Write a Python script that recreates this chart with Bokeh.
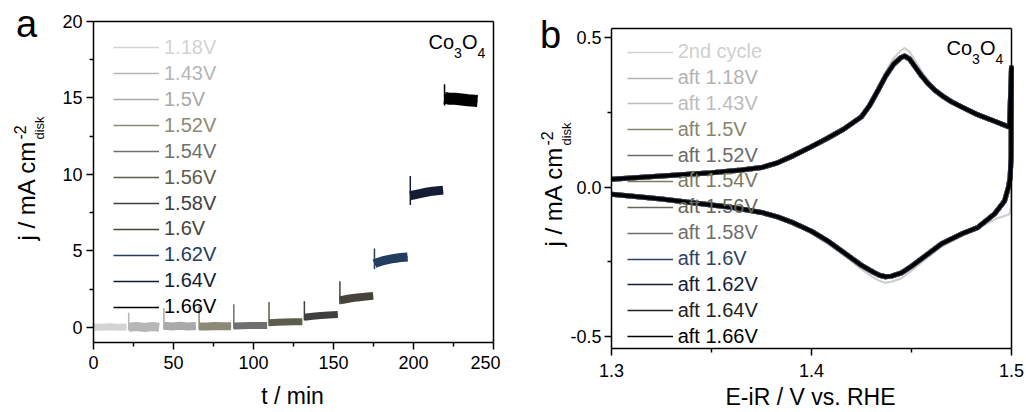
import math
from bokeh.plotting import figure
from bokeh.models import (Legend, LegendItem, Label, FixedTicker, NumeralTickFormatter,
                          LinearAxis, Range1d)
from bokeh.layouts import row
from bokeh.embed import file_html
from bokeh.resources import INLINE

FONT = "Liberation Sans"

# ---------------- Panel a data: chronoamperometry steps ----------------
a_labels = ["1.18V", "1.43V", "1.5V", "1.52V", "1.54V", "1.56V",
            "1.58V", "1.6V", "1.62V", "1.64V", "1.66V"]
t_118 = [0.0, 5.0, 10.0, 15.0, 20.6]
j_118 = [0.02, 0.0, 0.03, 0.0, 0.02]
t_143 = [22.0, 27.0, 32.0, 37.0, 41.0]
j_143 = [0.0, 0.05, -0.02, 0.05, 0.0]
t_150 = [44.0, 49.0, 54.0, 59.0, 64.0]
j_150 = [0.1, 0.05, 0.1, 0.05, 0.08]
t_152 = [66.0, 71.0, 76.0, 81.0, 86.0]
j_152 = [0.05, 0.05, 0.08, 0.06, 0.06]
t_154 = [87.7, 93.0, 98.0, 103.0, 108.5]
j_154 = [0.08, 0.1, 0.12, 0.12, 0.12]
t_156 = [109.7, 115.0, 120.0, 125.0, 130.5]
j_156 = [0.3, 0.32, 0.34, 0.35, 0.36]
t_158 = [131.8, 137.0, 142.0, 147.0, 152.7]
j_158 = [0.65, 0.72, 0.77, 0.8, 0.83]
t_160 = [154.0, 156.0, 160.0, 165.0, 170.0, 174.8]
j_160 = [1.75, 1.8, 1.88, 1.95, 2.0, 2.05]
t_162 = [175.6, 177.0, 180.0, 184.0, 188.0, 192.0, 196.3]
j_162 = [4.15, 4.22, 4.32, 4.42, 4.5, 4.56, 4.6]
t_164 = [198.0, 200.0, 204.0, 208.0, 212.0, 218.5]
j_164 = [8.6, 8.65, 8.74, 8.83, 8.9, 8.97]
t_166 = [219.4, 222.0, 226.0, 230.0, 234.0, 240.0]
j_166 = [15.0, 14.95, 14.95, 14.9, 14.85, 14.8]
a_t = [t_118, t_143, t_150, t_152, t_154, t_156, t_158, t_160, t_162, t_164, t_166]
a_j = [j_118, j_143, j_150, j_152, j_154, j_156, j_158, j_160, j_162, j_164, j_166]
spike_top = [0.02, 0.95, 1.25, 1.35, 1.5, 1.65, 1.7, 3.0, 5.15, 9.9, 15.9]
spike_bottom = [0.02, -0.2, -0.15, -0.15, -0.1, 0.1, 0.45, 1.5, 3.8, 8.0, 14.5]
a_xticks = [0, 50, 100, 150, 200, 250]
a_xminor = [25, 75, 125, 175, 225]
a_yticks = [0, 5, 10, 15, 20]
a_yminor = [2.5, 7.5, 12.5, 17.5]

# ---------------- Panel b data: cyclic voltammograms ----------------
b_labels = ["2nd cycle", "aft 1.18V", "aft 1.43V", "aft 1.5V", "aft 1.52V", "aft 1.54V",
            "aft 1.56V", "aft 1.58V", "aft 1.6V", "aft 1.62V", "aft 1.64V", "aft 1.66V"]
E_up = [1.300, 1.325, 1.350, 1.365, 1.375, 1.383, 1.391, 1.400, 1.408, 1.416, 1.425, 1.429,
        1.433, 1.437, 1.441, 1.4445, 1.4465, 1.449, 1.452, 1.455, 1.458, 1.462, 1.466, 1.470,
        1.475, 1.483, 1.4915, 1.4990, 1.5000]
j_up = [0.026, 0.037, 0.048, 0.057, 0.065, 0.081, 0.105, 0.135, 0.163, 0.193, 0.235, 0.272,
        0.320, 0.370, 0.410, 0.432, 0.438, 0.428, 0.400, 0.372, 0.348, 0.322, 0.302, 0.285,
        0.268, 0.242, 0.220, 0.200, 0.400]
j2_up = [0.026, 0.037, 0.048, 0.057, 0.065, 0.081, 0.105, 0.135, 0.163, 0.195, 0.238, 0.278,
         0.330, 0.385, 0.430, 0.455, 0.465, 0.452, 0.420, 0.388, 0.360, 0.330, 0.308, 0.290,
         0.272, 0.245, 0.222, 0.200, 0.200]
E_dn = [1.5000, 1.4998, 1.4993, 1.4985, 1.4965, 1.4915, 1.483, 1.475, 1.465, 1.455, 1.450,
        1.445, 1.440, 1.437, 1.434, 1.431, 1.425, 1.418, 1.408, 1.400, 1.391, 1.383, 1.375,
        1.360, 1.350, 1.325, 1.300]
j_dn = [0.400, 0.100, 0.030, 0.000, -0.047, -0.090, -0.136, -0.157, -0.190, -0.240, -0.265,
        -0.287, -0.298, -0.300, -0.295, -0.285, -0.262, -0.228, -0.180, -0.148, -0.120, -0.100,
        -0.085, -0.068, -0.060, -0.040, -0.024]
j2_dn = [0.200, -0.060, -0.085, -0.092, -0.097, -0.108, -0.140, -0.164, -0.200, -0.252, -0.280,
         -0.305, -0.317, -0.320, -0.314, -0.303, -0.275, -0.238, -0.190, -0.155, -0.125, -0.104,
         -0.088, -0.070, -0.061, -0.041, -0.025]
b_xticks = [1.3, 1.4, 1.5]
b_xminor = [1.35, 1.45]
b_yticks = [-0.5, 0.0, 0.5]
b_yminor = [-0.25, 0.25]

# ---------------- styles ----------------
a_colors = ["#d3d3d3", "#b6b6b6", "#a9a9a9", "#8c8a76", "#6f6f6f", "#5d5d4b",
            "#3f3f3f", "#48433a", "#223d5e", "#141c36", "#000000"]
a_band_px = [7, 9, 8, 8, 7, 7, 7, 8, 9, 9, 12]
b_colors = ["#cfcfcf", "#b3b3b3", "#bdbdbd", "#86866f", "#6b6b6b", "#7b7b62",
            "#66665a", "#6e6e6e", "#2b4466", "#151d3a", "#222222", "#000000"]
b_widths = [2, 5, 5, 5, 5, 5, 5, 5, 4.5, 4, 3.5, 3]

H = 412
MID = 0.38  # distance baseline -> middle anchor, in em


def make_fig(W, box, xr, yr):
    # box = (left, right, top, bottom) of the axes box in canvas pixels
    l, r, t, b = box
    kx = (r - l) / (xr[1] - xr[0])
    ky = (b - t) / (yr[1] - yr[0])
    p = figure(width=W, height=H, title=None, output_backend="svg", toolbar_location=None,
               x_range=Range1d(xr[0] - l / kx, xr[1] + (W - r) / kx),
               y_range=Range1d(yr[0] - (H - b) / ky, yr[1] + t / ky),
               min_border_left=0, min_border_right=0, min_border_top=0, min_border_bottom=0)
    p.xgrid.visible = False
    p.ygrid.visible = False
    p.outline_line_color = None
    p.background_fill_color = "white"
    p.border_fill_color = "white"
    xax = p.below[0]
    yax = p.left[0]
    xax.fixed_location = yr[0]
    xax.bounds = xr
    yax.fixed_location = xr[0]
    yax.bounds = yr
    top = LinearAxis(fixed_location=yr[1], bounds=xr, ticker=FixedTicker(ticks=[]))
    right = LinearAxis(fixed_location=xr[1], bounds=yr, ticker=FixedTicker(ticks=[]))
    p.add_layout(top, "above")
    p.add_layout(right, "right")
    for ax in (top, right):
        ax.axis_line_width = 1.5
        ax.axis_line_color = "black"
        ax.major_tick_line_color = None
        ax.minor_tick_line_color = None
        ax.major_label_text_font_size = "0px"
    return p, xax, yax


def style_axes(xax, yax, xt, xm, yt, ym, fmt, xstand, ystand):
    for ax in (xax, yax):
        ax.axis_line_width = 1.5
        ax.axis_line_color = "black"
        ax.major_tick_line_width = 1.5
        ax.minor_tick_line_width = 1.5
        ax.major_tick_line_color = "black"
        ax.minor_tick_line_color = "black"
        ax.major_tick_in = 0
        ax.major_tick_out = 7
        ax.minor_tick_in = 0
        ax.minor_tick_out = 4
        ax.major_label_text_font = FONT
        ax.major_label_text_font_size = "18px"
        ax.major_label_text_color = "black"
        if fmt:
            ax.formatter = NumeralTickFormatter(format=fmt)
    xax.ticker = FixedTicker(ticks=xt, minor_ticks=xm)
    yax.ticker = FixedTicker(ticks=yt, minor_ticks=ym)
    xax.major_label_standoff = xstand
    yax.major_label_standoff = ystand


def lab(p, X, Ybase, text, size, align="left"):
    # X, Ybase: canvas pixels (from top-left) of the text start and its baseline
    p.add_layout(Label(x=X, y=H - (Ybase - MID * size), x_units="screen", y_units="screen",
                       text=text, text_font=FONT, text_font_size=f"{size}px",
                       text_color="black", text_align=align, text_baseline="middle"))


def lab_rot(p, Xbase, Ystart, text, size):
    # vertical text reading upwards; Xbase = baseline column, Ystart = lower end
    p.add_layout(Label(x=Xbase - MID * size, y=H - Ystart, x_units="screen", y_units="screen",
                       text=text, text_font=FONT, text_font_size=f"{size}px",
                       text_color="black", text_align="left", text_baseline="middle",
                       angle=math.pi / 2))


def add_legends(p, labels, rends, colors, x0, yc0, dy, level="annotation"):
    for i, (lbl, r, c) in enumerate(zip(labels, rends, colors)):
        yc = H - (yc0 + dy * i)
        lg = Legend(items=[LegendItem(label=lbl, renderers=[r])],
                    location=(x0, yc - 12),
                    label_text_font=FONT, label_text_font_size="20px", label_text_color=c,
                    glyph_width=46, glyph_height=24, label_height=24, label_standoff=5,
                    padding=0, margin=0, spacing=0, border_line_color=None,
                    background_fill_alpha=0, level=level)
        p.add_layout(lg, "center")


def ylabel(p, xb, ystart):
    lab_rot(p, xb, ystart, "j / mA cm", 24)
    lab_rot(p, xb - 9, ystart - 101, "-2", 16)
    lab_rot(p, xb + 9, ystart - 101, "disk", 13)


def co3o4(p, X, Yb):
    lab(p, X, Yb, "Co", 20)
    lab(p, X + 25.6, Yb + 8, "3", 14)
    lab(p, X + 33.4, Yb, "O", 20)
    lab(p, X + 48.9, Yb + 8, "4", 14)


# ---------------- Panel a ----------------
pa, pa_x, pa_y = make_fig(500, (93, 493, 21, 342), (0, 250), (-1, 20))
style_axes(pa_x, pa_y, a_xticks, a_xminor, a_yticks, a_yminor, None, 6, 4)

proxies_a = []
for t, j, c in zip(a_t, a_j, a_colors):
    proxies_a.append(pa.line(t, j, line_color=c, line_width=1.5))
for t, j, c, w in zip(a_t, a_j, a_colors, a_band_px):
    pa.line(t, j, line_color=c, line_width=w, line_cap="butt", line_join="round")
spike_t = [t[0] for t in a_t]
pa.segment(x0=spike_t, y0=spike_bottom, x1=spike_t, y1=spike_top,
           line_color=a_colors, line_width=1.5)

add_legends(pa, a_labels, proxies_a, a_colors, 113, 47.3, 25.95)
co3o4(pa, 428, 49.5)
lab(pa, 15.5, 38.3, "a", 38)
lab(pa, 292, 404, "t / min", 23, align="center")
ylabel(pa, 35, 240)

# ---------------- Panel b ----------------
pb, pb_x, pb_y = make_fig(526, (111, 511, 28, 348), (1.3, 1.5), (-0.54, 0.53))
style_axes(pb_x, pb_y, b_xticks, b_xminor, b_yticks, b_yminor, "0.0", 8, 3)

E_cv = E_up + E_dn
j_cv = j_up + j_dn
j2_cv = j2_up + j2_dn
curves_b = [j2_cv] + [j_cv] * 11
proxies_b = []
for yy, c in zip(curves_b, b_colors):
    proxies_b.append(pb.line(E_cv, yy, line_color=c, line_width=1.5))
for yy, c, w in zip(curves_b, b_colors, b_widths):
    pb.line(E_cv, yy, line_color=c, line_width=w, line_join="round")

add_legends(pb, b_labels, proxies_b, b_colors, 126.7, 51.7, 25.85, level="underlay")
co3o4(pb, 446, 55.5)
lab(pb, 39.5, 49.3, "b", 38)
lab(pb, 310, 405, "E-iR / V vs. RHE", 23, align="center")
ylabel(pb, 62, 246)

layout = row(pa, pb)
open("out.html", "w").write(file_html(layout, INLINE, title="chart"))
